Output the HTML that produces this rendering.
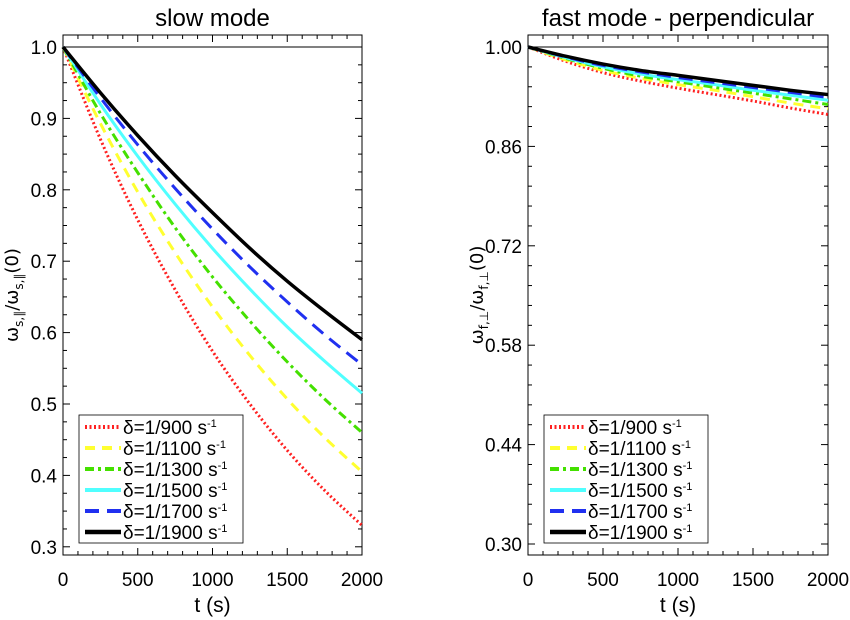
<!DOCTYPE html>
<html><head><meta charset="utf-8"><style>
body{margin:0;background:#fff;}
svg{display:block;font-family:"Liberation Sans",sans-serif;}
</style></head><body>
<svg id="c" width="850" height="620"></svg>
<script>
const times=[0,250,500,750,1000,1250,1500,1750,2000];
const labels=["δ=1/900 s","δ=1/1100 s","δ=1/1300 s","δ=1/1500 s","δ=1/1700 s","δ=1/1900 s"];
const slow900=[1,.871,.758,.660,.574,.500,.435,.379,.330];
const slow1100=[1,.893,.797,.712,.636,.568,.507,.453,.405];
const slow1300=[1,.907,.824,.747,.678,.616,.559,.507,.460];
const slow1500=[1,.920,.847,.780,.718,.661,.608,.560,.515];
const slow1700=[1,.929,.863,.802,.745,.692,.643,.597,.555];
const slow1900=[1,.936,.876,.820,.768,.718,.672,.630,.590];
const fast900=[1,.980,.964,.952,.942,.933,.924,.914,.905];
const fast1100=[1,.982,.967,.956,.947,.939,.930,.921,.913];
const fast1300=[1,.984,.970,.959,.951,.943,.935,.927,.919];
const fast1500=[1,.985,.972,.962,.954,.947,.939,.932,.925];
const fast1700=[1,.986,.974,.965,.957,.950,.943,.936,.929];
const fast1900=[1,.987,.976,.967,.960,.953,.946,.939,.933];
const slowTicks=[1.0,0.9,0.8,0.7,0.6,0.5,0.4,0.3];
const fastTicks=[1.00,0.86,0.72,0.58,0.44,0.30];
const xTicks=[0,500,1000,1500,2000];
const styles=[
 {c:"#ff2020",w:3,d:"2,2.5"},
 {c:"#ffff30",w:3,d:"10,7"},
 {c:"#44e000",w:3,d:"9,4,3,4"},
 {c:"#50ffff",w:3,d:""},
 {c:"#2030f0",w:3,d:"14,8"},
 {c:"#000",w:3.5,d:""}];
const svg=document.getElementById('c');
const NS="http://www.w3.org/2000/svg";
function el(t,a,p){const e=document.createElementNS(NS,t);for(const k in a)e.setAttribute(k,a[k]);(p||svg).appendChild(e);return e;}
function smooth(pts){
 let d='M'+pts[0][0]+','+pts[0][1];
 for(let i=0;i<pts.length-1;i++){
  const p0=pts[i-1]||pts[i],p1=pts[i],p2=pts[i+1],p3=pts[i+2]||p2;
  const c1=[p1[0]+(p2[0]-p0[0])/6,p1[1]+(p2[1]-p0[1])/6];
  const c2=[p2[0]-(p3[0]-p1[0])/6,p2[1]-(p3[1]-p1[1])/6];
  d+=' C'+c1+' '+c2+' '+p2;}
 return d;}
function panel(o){
 const g=el('g',{});
 
 
 const L=o.L,R=o.R,T=35,B=555;
 const xs=v=>L+(v-0)/2000*(R-L);
 const ys=v=>47+(1-v)/o.per*o.pix;
 el('rect',{x:L,y:T,width:R-L,height:B-T,fill:'none',stroke:'#000','stroke-width':1},g);
 el('line',{x1:L,x2:R,y1:ys(1),y2:ys(1),stroke:'#000','stroke-width':1},g);
 const step=o.per/o.minor;
 for(let v=1;v>=o.min-1e-9;v-=step){const y=ys(v);if(y>B)break;
  const major=Math.abs(Math.round((1-v)/step)%o.minor)===0;const len=major?7:4;
  el('line',{x1:L,x2:L+len,y1:y,y2:y,stroke:'#000'},g);el('line',{x1:R,x2:R-len,y1:y,y2:y,stroke:'#000'},g);}
 o.ticks.forEach(v=>{const t=el('text',{x:L-6,y:ys(v)+7,'text-anchor':'end','font-size':19},g);t.textContent=o.fmt(v);
  });
 for(let v=0;v<=2000;v+=100){const x=xs(v);const len=v%500===0?7:4;
  el('line',{x1:x,x2:x,y1:B,y2:B-len,stroke:'#000'},g);el('line',{x1:x,x2:x,y1:T,y2:T+len,stroke:'#000'},g);}
 xTicks.forEach(v=>{const t=el('text',{x:xs(v),y:586,'text-anchor':'middle','font-size':19},g);t.textContent=v;
  });
 const xt=el('text',{x:(L+R)/2,y:612,'text-anchor':'middle','font-size':21},g);xt.textContent='t (s)';
 
 const tt=el('text',{x:(L+R)/2,y:26,'text-anchor':'middle','font-size':24},g);tt.textContent=o.title;
 
 const yt=el('text',{transform:`translate(${L-45},${(T+B)/2}) rotate(-90)`,'text-anchor':'middle','font-size':18,'font-family':'DejaVu Sans'},g);
 yt.innerHTML=o.ylab;
 o.series.forEach((s,i)=>{const st=styles[i];
  const p=el('path',{d:smooth(s.map((v,j)=>[xs(times[j]),ys(v)])),fill:'none',stroke:st.c,'stroke-width':st.w,'stroke-dasharray':st.d},g);
  });
 const lx=L+16,ly=415;
 const lg=el('g',{},g);
 el('rect',{x:lx,y:ly,width:164,height:128,fill:'#fff',stroke:'#000','stroke-width':0.8},lg);
 labels.forEach((lb,i)=>{const st=styles[i];const y=ly+12+i*21;
  el('line',{x1:lx+6,x2:lx+42,y1:y,y2:y,stroke:st.c,'stroke-width':st.w+1,'stroke-dasharray':st.d},lg);
  const t=el('text',{x:lx+44,y:y+7,'font-size':19},lg);t.innerHTML=lb+'<tspan dy="-7" font-size="11">-1</tspan>';
  });
}
panel({name:'slow-mode-panel',L:63,R:362,per:0.1,pix:71.4,minor:4,min:0.28,ticks:slowTicks,fmt:v=>v.toFixed(1),title:'slow mode',
 ylab:'ω<tspan dy="5" font-size="12">s,∥</tspan><tspan dy="-5">/ω</tspan><tspan dy="5" font-size="12">s,∥</tspan><tspan dy="-5">(0)</tspan>',
 series:[slow900,slow1100,slow1300,slow1500,slow1700,slow1900]});
panel({name:'fast-mode-panel',L:528,R:828,per:0.14,pix:99.4,minor:5,min:0.28,ticks:fastTicks,fmt:v=>v.toFixed(2),title:'fast mode - perpendicular',
 ylab:'ω<tspan dy="5" font-size="12">f,⊥</tspan><tspan dy="-5">/ω</tspan><tspan dy="5" font-size="12">f,⊥</tspan><tspan dy="-5">(0)</tspan>',
 series:[fast900,fast1100,fast1300,fast1500,fast1700,fast1900]});
</script>
</body></html>
